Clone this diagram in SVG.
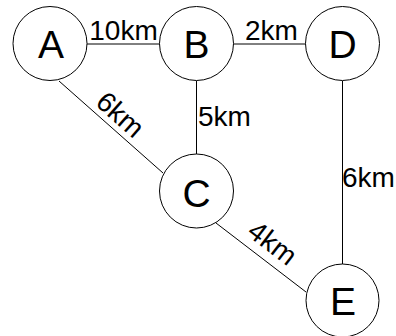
<svg xmlns="http://www.w3.org/2000/svg" width="396" height="336" viewBox="0 0 396 336">
  <style>
    .node circle { fill: #ffffff; stroke: #000000; stroke-width: 1; }
    .node text { font-family: "Liberation Sans", Arial, sans-serif; font-size: 39px; fill: #000000; text-anchor: middle; }
    .edge { stroke: #000000; stroke-width: 1; fill: none; }
    .label { font-family: "Liberation Sans", Arial, sans-serif; font-size: 28px; fill: #000000; }
  </style>
  <rect width="396" height="336" fill="#ffffff"/>

  <!-- connectors -->
  <g id="edges">
    <line class="edge" x1="87" y1="44" x2="160" y2="44"/>
    <line class="edge" x1="233" y1="44" x2="306" y2="44"/>
    <line class="edge" x1="196.5" y1="81" x2="196.5" y2="154"/>
    <line class="edge" x1="342.5" y1="81" x2="342.5" y2="264"/>
    <line class="edge" x1="59" y1="81" x2="163" y2="173"/>
    <line class="edge" x1="216" y1="223" x2="306" y2="292"/>
    <text class="label" x="123.5" y="39.5" text-anchor="middle">10km</text>
    <text class="label" x="271.5" y="39.5" text-anchor="middle">2km</text>
    <text class="label" x="198" y="126">5km</text>
    <text class="label" x="342" y="187">6km</text>
    <text class="label" x="112" y="121" text-anchor="middle" transform="rotate(41.5 112 124)">6km</text>
    <text class="label" x="265" y="250" text-anchor="middle" transform="rotate(37.5 265 253)">4km</text>
  </g>

  <!-- nodes -->
  <g id="node-A" class="node">
    <circle cx="50" cy="43.5" r="37"/>
    <text x="51" y="57.5">A</text>
  </g>
  <g id="node-B" class="node">
    <circle cx="196.5" cy="43.5" r="37"/>
    <text x="196.5" y="57.5">B</text>
  </g>
  <g id="node-D" class="node">
    <circle cx="342.5" cy="43.5" r="37"/>
    <text x="342.5" y="57.5">D</text>
  </g>
  <g id="node-C" class="node">
    <circle cx="196.5" cy="191" r="37"/>
    <text x="196.5" y="207">C</text>
  </g>
  <g id="node-E" class="node">
    <circle cx="342.5" cy="300.5" r="36.5"/>
    <text x="343" y="314.5">E</text>
  </g>
</svg>
